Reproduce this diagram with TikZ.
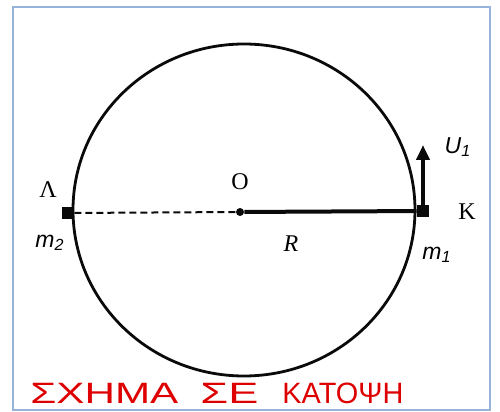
\documentclass[tikz,border=0pt]{standalone}
\usepackage{fontspec}
\usepackage{graphicx}
\usepackage{xcolor}
\usepackage{tikz}
\usetikzlibrary{arrows.meta}
\setmainfont{Liberation Serif}
\newfontfamily\labelsans{Liberation Sans}
\definecolor{frameblue}{RGB}{150,180,218}
\definecolor{penred}{RGB}{222,0,0}
\definecolor{inkblack}{RGB}{10,10,10}
\tikzset{
  frame/.style={draw=frameblue, line width=1pt},
  rim/.style={draw=inkblack, line width=1.4pt},
  mass/.style={rectangle, fill=inkblack, minimum size=6pt, inner sep=0pt},
  centredot/.style={circle, fill=inkblack, minimum size=4pt, inner sep=0pt},
  radius line/.style={draw=inkblack, line width=2pt},
  hidden line/.style={draw=inkblack, line width=1pt, dash pattern=on 3.5pt off 2pt},
  speed arrow/.style={draw=inkblack, line width=2pt,
                      -{Triangle[length=7.5pt, width=6.5pt]}},
  pointname/.style={font=\fontsize{12}{14}\selectfont, inner sep=0pt},
  quantity/.style={font=\labelsans\itshape\fontsize{11.5}{13}\selectfont,
                   inner sep=0pt},
  hand/.style={text=penred, font=\labelsans\fontsize{14.7}{16}\selectfont,
               inner sep=0pt, anchor=base west},
}

\begin{document}
\begin{tikzpicture}[x=0.5pt, y=-0.5pt]
\useasboundingbox (0,0) rectangle (500,412);
% outer box and the circular track seen from above
\draw[frame] (13,7) rectangle (490,410);
\draw[rim] (244,210) ellipse [x radius=171, y radius=166];
% centre, the two masses and the rod
\node[centredot] (centre) at (240,212) {};
\node[mass] (massL) at (68,213) {};
\node[mass] (massK) at (423,211) {};
\draw[hidden line] (massL) -- (centre);
\draw[radius line] (centre) -- (massK);
% velocity of m1
\coordinate (vtip) at (423,145);
\draw[speed arrow] (massK.north) -- (vtip);
% labels
\node[pointname] (nameO) at (240,182) {O};
\node[pointname] (nameL) at (48,190) {Λ};
\node[pointname] (nameK) at (467,212) {K};
\node[pointname, font=\itshape\fontsize{12}{14}\selectfont] (nameR) at (291,244) {R};
\node[quantity] (labm2) at (50,243) {m\textsubscript{2}};
\node[quantity] (labm1) at (437,255) {m\textsubscript{1}};
\node[quantity] (labU1) at (458,147) {U\textsubscript{1}};
% handwritten caption
\node[hand] (word1) at (30,404) {\resizebox{74pt}{\height}{ΣΧΗΜΑ}};
\node[hand] (word2) at (200,404) {\resizebox{29pt}{\height}{ΣΕ}};
\node[hand] (word3) at (282,404) {\resizebox{60.5pt}{\height}{ΚΑΤΟΨΗ}};
\end{tikzpicture}
\end{document}
